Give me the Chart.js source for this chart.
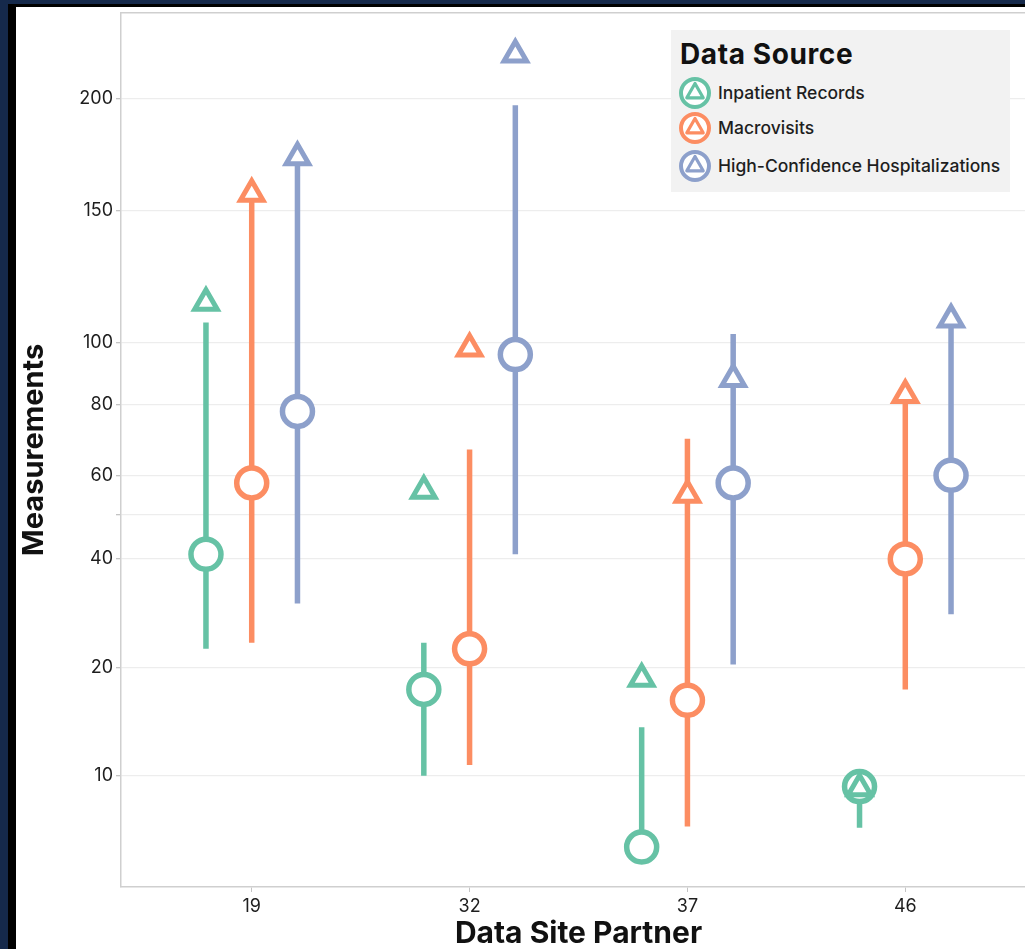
<!DOCTYPE html>
<html>
<head>
<meta charset="utf-8">
<title>Measurements by Data Site Partner</title>
<script src="https://cdn.jsdelivr.net/npm/chart.js@4.4.1/dist/chart.umd.min.js"></script>
<style>
  html, body { margin: 0; padding: 0; width: 1025px; height: 949px; overflow: hidden; background: #15294b; }
  #mat { position: absolute; left: 8px; top: 4px; width: 1040px; height: 960px; background: #000; }
  #panel { position: absolute; left: 16px; top: 7px; width: 1020px; height: 942px; background: #fff; }
  #chart { position: absolute; left: 0; top: 0; }
  #legend { position: absolute; left: 655px; top: 23px; width: 339px; height: 162px; background: #f2f2f2;
            font-family: Inter, "Noto Sans", sans-serif; color: #1e1e1e; }
  #legend .title { position: absolute; left: 9px; top: 9px; font-size: 28px; letter-spacing: 0.6px; font-weight: 700; line-height: 30px; color: #111; }
  #legend .item { position: absolute; left: 7px; height: 34px; display: flex; align-items: center; }
  #legend .item svg { width: 34px; height: 34px; flex: none; }
  #legend .item span { margin-left: 6px; font-size: 17.5px; font-weight: 500; line-height: 20px; }
</style>
</head>
<body>
<div id="mat"></div>
<div id="panel">
  <canvas id="chart" width="1020" height="942"></canvas>
  <div id="legend"></div>
</div>
<script>
// Data sites along the x axis
const sites = ['19', '32', '37', '46'];

// Data sources (series)
const sourceNames = ['Inpatient Records', 'Macrovisits', 'High-Confidence Hospitalizations'];
const sourceColors = ['#66c2a5', '#fc8d62', '#8da0cb'];

// Inpatient Records: point estimate (circle), alternate estimate (triangle), range low/high
const inpatientCircle   = [41, 18, 3.4, 9];
const inpatientTriangle = [114, 56, 19, 8.85];
const inpatientLow      = [23, 10, 3.4, 5.2];
const inpatientHigh     = [107, 24, 14.5, 9];

// Macrovisits
const macroCircle   = [58, 23, 17, 40];
const macroTriangle = [157, 98, 55, 83];
const macroLow      = [24, 11, 5.3, 18];
const macroHigh     = [157, 67, 70, 83];

// High-Confidence Hospitalizations
const hchCircle   = [78, 96, 58, 60];
const hchTriangle = [173, 222, 88, 108];
const hchLow      = [31, 41, 20.5, 29];
const hchHigh     = [173, 197, 103, 108];

// Y axis ticks (50 gets a grid line but no label)
const yTickValues = [10, 20, 40, 50, 60, 80, 100, 150, 200];
const yTickLabels = ['10', '20', '40', '', '60', '80', '100', '150', '200'];

const circles   = [inpatientCircle, macroCircle, hchCircle];
const triangles = [inpatientTriangle, macroTriangle, hchTriangle];
const lows      = [inpatientLow, macroLow, hchLow];
const highs     = [inpatientHigh, macroHigh, hchHigh];

// ---- Value axis: square-root spacing above 20, linear spacing below ----
const KNEE = 20;
const LOW_STEP = 0.1835;   // sqrt-units per unit of value under the knee
function warp(v) {
  return v >= KNEE ? Math.sqrt(v) : Math.sqrt(KNEE) - (KNEE - v) * LOW_STEP;
}
function unwarp(w) {
  const k = Math.sqrt(KNEE);
  return w >= k ? w * w : KNEE - (k - w) / LOW_STEP;
}

class WarpedScale extends Chart.LinearScale {
  configure() {
    super.configure();
    this._wStart = warp(this.min);
    this._wEnd = warp(this.max);
  }
  getPixelForValue(value) {
    if (value === null || value === undefined || isNaN(value)) return NaN;
    return this.getPixelForDecimal((warp(value) - this._wStart) / (this._wEnd - this._wStart));
  }
  getValueForPixel(pixel) {
    return unwarp(this._wStart + this.getDecimalForPixel(pixel) * (this._wEnd - this._wStart));
  }
}
WarpedScale.id = 'warped';
WarpedScale.defaults = Chart.LinearScale.defaults;
Chart.register(WarpedScale);

// ---- Datasets ----
const DODGE = [-0.21, 0, 0.21];
const datasets = [];

sourceNames.forEach((name, s) => {
  const seg = [];
  lows[s].forEach((lo, i) => {
    const x = i + DODGE[s];
    seg.push({ x, y: lo }, { x, y: highs[s][i] }, { x, y: null });
  });
  datasets.push({
    type: 'line', label: name + ' range', data: seg, order: 3,
    borderColor: sourceColors[s], borderWidth: 5.5, borderCapStyle: 'butt',
    pointRadius: 0, spanGaps: false, tension: 0
  });
  datasets.push({
    type: 'scatter', label: name, order: 2,
    data: circles[s].map((v, i) => ({ x: i + DODGE[s], y: v })),
    pointStyle: 'circle', pointRadius: 15, pointBorderWidth: 5.5,
    pointBackgroundColor: '#ffffff', pointBorderColor: sourceColors[s]
  });
  datasets.push({
    type: 'scatter', label: name + ' alt', order: 1,
    data: triangles[s].map((v, i) => ({ x: i + DODGE[s], y: v })),
    pointStyle: 'triangle', pointRadius: 13, pointBorderWidth: 5,
    pointBackgroundColor: '#ffffff', pointBorderColor: sourceColors[s]
  });
});

const FONT = 'Inter, "Noto Sans", sans-serif';
const AXIS_LINE = '#cfcfcf';

function noPadding(sc) {
  sc.paddingTop = 0; sc.paddingBottom = 0; sc.paddingLeft = 0; sc.paddingRight = 0;
}

new Chart(document.getElementById('chart'), {
  type: 'line',
  data: { datasets },
  options: {
    responsive: false,
    devicePixelRatio: 1,
    animation: false,
    events: [],
    layout: { autoPadding: false, padding: { top: 6, left: 0, right: 0, bottom: 0 } },
    plugins: { legend: { display: false }, tooltip: { enabled: false } },
    scales: {
      x: {
        type: 'linear', position: 'bottom', min: -0.6, max: 3.6, bounds: 'data',
        afterBuildTicks: (sc) => { sc.ticks = sites.map((_, i) => ({ value: i })); },
        afterFit: (sc) => { sc.height = 62; noPadding(sc); },
        ticks: {
          autoSkip: false, padding: 4, color: '#1e1e1e',
          font: { family: FONT, size: 18 },
          callback: (v) => sites[v]
        },
        grid: { drawOnChartArea: false, drawTicks: true, tickLength: 5, tickColor: '#c4c4c4' },
        border: { color: AXIS_LINE, width: 1.5 },
        title: {
          display: true, text: 'Data Site Partner', color: '#111',
          font: { family: FONT, size: 30, weight: 'bold', lineHeight: 1 },
          padding: { top: 0, bottom: 0 }
        }
      },
      xTop: {
        type: 'linear', position: 'top', min: 0, max: 1,
        afterFit: (sc) => { sc.height = 0; noPadding(sc); },
        ticks: { display: false },
        grid: { display: false },
        border: { color: AXIS_LINE, width: 1.5 }
      },
      y: {
        type: 'warped', position: 'left', min: -0.3, max: 243.5, bounds: 'data',
        afterBuildTicks: (sc) => { sc.ticks = yTickValues.map(v => ({ value: v })); },
        afterFit: (sc) => { sc.width = 105; noPadding(sc); },
        ticks: {
          autoSkip: false, padding: 3, color: '#1e1e1e',
          font: { family: FONT, size: 18 },
          callback: (v) => yTickLabels[yTickValues.indexOf(v)]
        },
        grid: { color: '#ededed', lineWidth: 1.3, drawTicks: true, tickLength: 5, tickColor: '#c4c4c4' },
        border: { color: AXIS_LINE, width: 1.5 },
        title: {
          display: true, text: 'Measurements', color: '#111',
          font: { family: FONT, size: 29, weight: 'bold', lineHeight: 1 },
          padding: { top: 4, bottom: 0 }
        }
      }
    }
  }
});

// ---- Legend box ----
const legend = document.getElementById('legend');
const titleEl = document.createElement('div');
titleEl.className = 'title';
titleEl.textContent = 'Data Source';
legend.appendChild(titleEl);
const ITEM_TOPS = [46, 81, 119];
sourceNames.forEach((name, s) => {
  const item = document.createElement('div');
  item.className = 'item';
  item.style.top = ITEM_TOPS[s] + 'px';
  const c = sourceColors[s];
  item.innerHTML =
    '<svg viewBox="0 0 34 34">' +
    '<circle cx="17" cy="17" r="14" fill="#ffffff" stroke="' + c + '" stroke-width="4"/>' +
    '<polygon points="17,7.5 25.2,21.8 8.8,21.8" fill="#ffffff" stroke="' + c + '" stroke-width="3.2" stroke-linejoin="round"/>' +
    '</svg>';
  const label = document.createElement('span');
  label.textContent = name;
  item.appendChild(label);
  legend.appendChild(item);
});
</script>
</body>
</html>
